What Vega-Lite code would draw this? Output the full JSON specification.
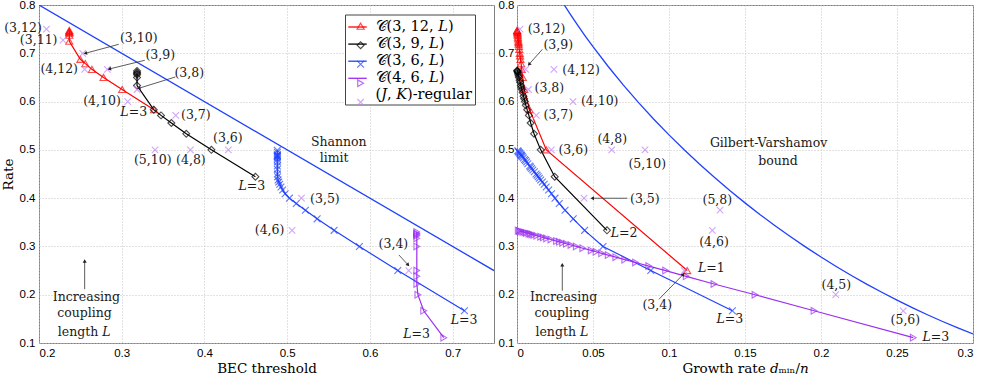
{
  "$schema": "https://vega.github.io/schema/vega-lite/v6.json",
  "background": "white",
  "padding": {"left": 0, "top": -2, "right": 0, "bottom": 0},
  "spacing": 2,
  "config": {
    "font": "DejaVu Serif",
    "view": {"stroke": "#7f7f7f", "strokeWidth": 1},
    "axis": {
      "labelFont": "Liberation Sans", "labelFontSize": 11.5, "labelColor": "#000",
      "titleFont": "DejaVu Serif", "titleFontSize": 13.5, "titleFontWeight": "normal", "titleColor": "#000",
      "grid": true, "gridColor": "#c4c4c4", "gridDash": [1, 2], "gridWidth": 1,
      "domain": false, "ticks": false, "labelPadding": 4
    }
  },
  "resolve": {
    "scale": {"color": "independent", "stroke": "independent", "shape": "independent", "size": "independent"},
    "legend": {"color": "independent", "stroke": "independent", "shape": "independent", "size": "independent"}
  },
  "datasets": {
    "shannon": [{"x": 0.2, "y": 0.8}, {"x": 0.75, "y": 0.25}],
    "gv": [
      {"x": 0.031, "y": 0.8006}, {"x": 0.035, "y": 0.7811}, {"x": 0.04, "y": 0.7577}, {"x": 0.045, "y": 0.7352},
      {"x": 0.05, "y": 0.7136}, {"x": 0.06, "y": 0.6726}, {"x": 0.07, "y": 0.6341}, {"x": 0.08, "y": 0.5978},
      {"x": 0.09, "y": 0.5635}, {"x": 0.1, "y": 0.531}, {"x": 0.11, "y": 0.5001}, {"x": 0.12, "y": 0.4706},
      {"x": 0.13, "y": 0.4426}, {"x": 0.14, "y": 0.4158}, {"x": 0.15, "y": 0.3902}, {"x": 0.16, "y": 0.3657},
      {"x": 0.17, "y": 0.3423}, {"x": 0.18, "y": 0.3199}, {"x": 0.19, "y": 0.2985}, {"x": 0.2, "y": 0.2781},
      {"x": 0.21, "y": 0.2585}, {"x": 0.22, "y": 0.2398}, {"x": 0.23, "y": 0.222}, {"x": 0.24, "y": 0.205},
      {"x": 0.25, "y": 0.1887}, {"x": 0.26, "y": 0.1732}, {"x": 0.27, "y": 0.1585}, {"x": 0.28, "y": 0.1445},
      {"x": 0.29, "y": 0.1313}, {"x": 0.3, "y": 0.1187}
    ],
    "left": [
      {"s": "𝒞(3, 12, 𝐿)", "L": 3, "x": 0.339, "y": 0.5833},
      {"s": "𝒞(3, 12, 𝐿)", "L": 4, "x": 0.3005, "y": 0.625},
      {"s": "𝒞(3, 12, 𝐿)", "L": 5, "x": 0.278, "y": 0.65},
      {"s": "𝒞(3, 12, 𝐿)", "L": 6, "x": 0.264, "y": 0.6667},
      {"s": "𝒞(3, 12, 𝐿)", "L": 7, "x": 0.256, "y": 0.6786},
      {"s": "𝒞(3, 12, 𝐿)", "L": 8, "x": 0.25, "y": 0.6875},
      {"s": "𝒞(3, 12, 𝐿)", "L": 20, "x": 0.2366, "y": 0.725},
      {"s": "𝒞(3, 12, 𝐿)", "L": 40, "x": 0.2366, "y": 0.7375},
      {"s": "𝒞(3, 12, 𝐿)", "L": 60, "x": 0.2366, "y": 0.7417},
      {"s": "𝒞(3, 12, 𝐿)", "L": 80, "x": 0.2366, "y": 0.7438},
      {"s": "𝒞(3, 12, 𝐿)", "L": 100, "x": 0.2366, "y": 0.745},
      {"s": "𝒞(3, 12, 𝐿)", "L": 200, "x": 0.2366, "y": 0.7475},
      {"s": "𝒞(3, 9, 𝐿)", "L": 3, "x": 0.4616, "y": 0.4444},
      {"s": "𝒞(3, 9, 𝐿)", "L": 4, "x": 0.4084, "y": 0.5},
      {"s": "𝒞(3, 9, 𝐿)", "L": 5, "x": 0.378, "y": 0.5333},
      {"s": "𝒞(3, 9, 𝐿)", "L": 6, "x": 0.36, "y": 0.5556},
      {"s": "𝒞(3, 9, 𝐿)", "L": 7, "x": 0.3475, "y": 0.5714},
      {"s": "𝒞(3, 9, 𝐿)", "L": 8, "x": 0.3387, "y": 0.5833},
      {"s": "𝒞(3, 9, 𝐿)", "L": 20, "x": 0.3185, "y": 0.6333},
      {"s": "𝒞(3, 9, 𝐿)", "L": 40, "x": 0.3185, "y": 0.65},
      {"s": "𝒞(3, 9, 𝐿)", "L": 60, "x": 0.3185, "y": 0.6556},
      {"s": "𝒞(3, 9, 𝐿)", "L": 80, "x": 0.3185, "y": 0.6583},
      {"s": "𝒞(3, 9, 𝐿)", "L": 100, "x": 0.3185, "y": 0.66},
      {"s": "𝒞(3, 9, 𝐿)", "L": 200, "x": 0.3185, "y": 0.6633},
      {"s": "𝒞(3, 6, 𝐿)", "L": 3, "x": 0.7143, "y": 0.1667},
      {"s": "𝒞(3, 6, 𝐿)", "L": 4, "x": 0.6337, "y": 0.25},
      {"s": "𝒞(3, 6, 𝐿)", "L": 5, "x": 0.5873, "y": 0.3},
      {"s": "𝒞(3, 6, 𝐿)", "L": 6, "x": 0.5567, "y": 0.3333},
      {"s": "𝒞(3, 6, 𝐿)", "L": 7, "x": 0.5362, "y": 0.3571},
      {"s": "𝒞(3, 6, 𝐿)", "L": 8, "x": 0.522, "y": 0.375},
      {"s": "𝒞(3, 6, 𝐿)", "L": 9, "x": 0.511, "y": 0.3889},
      {"s": "𝒞(3, 6, 𝐿)", "L": 10, "x": 0.5027, "y": 0.4},
      {"s": "𝒞(3, 6, 𝐿)", "L": 11, "x": 0.4975, "y": 0.4091},
      {"s": "𝒞(3, 6, 𝐿)", "L": 12, "x": 0.4945, "y": 0.4167},
      {"s": "𝒞(3, 6, 𝐿)", "L": 13, "x": 0.4925, "y": 0.4231},
      {"s": "𝒞(3, 6, 𝐿)", "L": 14, "x": 0.491, "y": 0.4286},
      {"s": "𝒞(3, 6, 𝐿)", "L": 15, "x": 0.4898, "y": 0.4333},
      {"s": "𝒞(3, 6, 𝐿)", "L": 16, "x": 0.489, "y": 0.4375},
      {"s": "𝒞(3, 6, 𝐿)", "L": 18, "x": 0.4884, "y": 0.4444},
      {"s": "𝒞(3, 6, 𝐿)", "L": 20, "x": 0.4882, "y": 0.45},
      {"s": "𝒞(3, 6, 𝐿)", "L": 25, "x": 0.4881, "y": 0.46},
      {"s": "𝒞(3, 6, 𝐿)", "L": 30, "x": 0.4881, "y": 0.4667},
      {"s": "𝒞(3, 6, 𝐿)", "L": 40, "x": 0.4881, "y": 0.475},
      {"s": "𝒞(3, 6, 𝐿)", "L": 50, "x": 0.4881, "y": 0.48},
      {"s": "𝒞(3, 6, 𝐿)", "L": 60, "x": 0.4881, "y": 0.4833},
      {"s": "𝒞(3, 6, 𝐿)", "L": 70, "x": 0.4881, "y": 0.4857},
      {"s": "𝒞(3, 6, 𝐿)", "L": 80, "x": 0.4881, "y": 0.4875},
      {"s": "𝒞(3, 6, 𝐿)", "L": 90, "x": 0.4881, "y": 0.4889},
      {"s": "𝒞(3, 6, 𝐿)", "L": 100, "x": 0.4881, "y": 0.49},
      {"s": "𝒞(3, 6, 𝐿)", "L": 200, "x": 0.4881, "y": 0.495},
      {"s": "𝒞(3, 6, 𝐿)", "L": 1000, "x": 0.4881, "y": 0.499},
      {"s": "𝒞(4, 6, 𝐿)", "L": 3, "x": 0.6893, "y": 0.1111},
      {"s": "𝒞(4, 6, 𝐿)", "L": 4, "x": 0.665, "y": 0.1667},
      {"s": "𝒞(4, 6, 𝐿)", "L": 5, "x": 0.658, "y": 0.2},
      {"s": "𝒞(4, 6, 𝐿)", "L": 6, "x": 0.6567, "y": 0.2222},
      {"s": "𝒞(4, 6, 𝐿)", "L": 7, "x": 0.6567, "y": 0.2381},
      {"s": "𝒞(4, 6, 𝐿)", "L": 8, "x": 0.6567, "y": 0.25},
      {"s": "𝒞(4, 6, 𝐿)", "L": 20, "x": 0.6567, "y": 0.3},
      {"s": "𝒞(4, 6, 𝐿)", "L": 40, "x": 0.6567, "y": 0.3167},
      {"s": "𝒞(4, 6, 𝐿)", "L": 60, "x": 0.6567, "y": 0.3222},
      {"s": "𝒞(4, 6, 𝐿)", "L": 80, "x": 0.6567, "y": 0.325},
      {"s": "𝒞(4, 6, 𝐿)", "L": 100, "x": 0.6567, "y": 0.3267},
      {"s": "𝒞(4, 6, 𝐿)", "L": 200, "x": 0.6567, "y": 0.33},
      {"s": "(𝐽, 𝐾)-regular", "x": 0.209, "y": 0.75},
      {"s": "(𝐽, 𝐾)-regular", "x": 0.229, "y": 0.7273},
      {"s": "(𝐽, 𝐾)-regular", "x": 0.2528, "y": 0.7},
      {"s": "(𝐽, 𝐾)-regular", "x": 0.2552, "y": 0.6667},
      {"s": "(𝐽, 𝐾)-regular", "x": 0.2826, "y": 0.6667},
      {"s": "(𝐽, 𝐾)-regular", "x": 0.3185, "y": 0.625},
      {"s": "(𝐽, 𝐾)-regular", "x": 0.3072, "y": 0.6},
      {"s": "(𝐽, 𝐾)-regular", "x": 0.3653, "y": 0.5714},
      {"s": "(𝐽, 𝐾)-regular", "x": 0.3403, "y": 0.5},
      {"s": "(𝐽, 𝐾)-regular", "x": 0.383, "y": 0.5},
      {"s": "(𝐽, 𝐾)-regular", "x": 0.4289, "y": 0.5},
      {"s": "(𝐽, 𝐾)-regular", "x": 0.5172, "y": 0.4},
      {"s": "(𝐽, 𝐾)-regular", "x": 0.5059, "y": 0.3333},
      {"s": "(𝐽, 𝐾)-regular", "x": 0.647, "y": 0.25}
    ],
    "right": [
      {"s": "𝒞(3, 12, 𝐿)", "L": 1, "x": 0.112, "y": 0.25},
      {"s": "𝒞(3, 12, 𝐿)", "L": 2, "x": 0.0193, "y": 0.5},
      {"s": "𝒞(3, 12, 𝐿)", "L": 3, "x": 0.0083, "y": 0.5833},
      {"s": "𝒞(3, 12, 𝐿)", "L": 4, "x": 0.0048, "y": 0.625},
      {"s": "𝒞(3, 12, 𝐿)", "L": 5, "x": 0.0038, "y": 0.65},
      {"s": "𝒞(3, 12, 𝐿)", "L": 6, "x": 0.0031, "y": 0.6667},
      {"s": "𝒞(3, 12, 𝐿)", "L": 7, "x": 0.0027, "y": 0.6786},
      {"s": "𝒞(3, 12, 𝐿)", "L": 8, "x": 0.0023, "y": 0.6875},
      {"s": "𝒞(3, 12, 𝐿)", "L": 9, "x": 0.002, "y": 0.6944},
      {"s": "𝒞(3, 12, 𝐿)", "L": 10, "x": 0.0018, "y": 0.7},
      {"s": "𝒞(3, 12, 𝐿)", "L": 12, "x": 0.0015, "y": 0.7083},
      {"s": "𝒞(3, 12, 𝐿)", "L": 14, "x": 0.0013, "y": 0.7143},
      {"s": "𝒞(3, 12, 𝐿)", "L": 16, "x": 0.0011, "y": 0.7188},
      {"s": "𝒞(3, 12, 𝐿)", "L": 18, "x": 0.001, "y": 0.7222},
      {"s": "𝒞(3, 12, 𝐿)", "L": 20, "x": 0.0009, "y": 0.725},
      {"s": "𝒞(3, 12, 𝐿)", "L": 25, "x": 0.0007, "y": 0.73},
      {"s": "𝒞(3, 12, 𝐿)", "L": 30, "x": 0.0006, "y": 0.7333},
      {"s": "𝒞(3, 12, 𝐿)", "L": 40, "x": 0.00045, "y": 0.7375},
      {"s": "𝒞(3, 12, 𝐿)", "L": 50, "x": 0.00036, "y": 0.74},
      {"s": "𝒞(3, 12, 𝐿)", "L": 70, "x": 0.00026, "y": 0.7429},
      {"s": "𝒞(3, 12, 𝐿)", "L": 100, "x": 0.00018, "y": 0.745},
      {"s": "𝒞(3, 12, 𝐿)", "L": 150, "x": 0.00012, "y": 0.7467},
      {"s": "𝒞(3, 12, 𝐿)", "L": 200, "x": 0.00009, "y": 0.7475},
      {"s": "𝒞(3, 9, 𝐿)", "L": 2, "x": 0.0592, "y": 0.3333},
      {"s": "𝒞(3, 9, 𝐿)", "L": 3, "x": 0.0248, "y": 0.4444},
      {"s": "𝒞(3, 9, 𝐿)", "L": 4, "x": 0.0156, "y": 0.5},
      {"s": "𝒞(3, 9, 𝐿)", "L": 5, "x": 0.0112, "y": 0.5333},
      {"s": "𝒞(3, 9, 𝐿)", "L": 6, "x": 0.009, "y": 0.5556},
      {"s": "𝒞(3, 9, 𝐿)", "L": 7, "x": 0.0078, "y": 0.5714},
      {"s": "𝒞(3, 9, 𝐿)", "L": 8, "x": 0.0067, "y": 0.5833},
      {"s": "𝒞(3, 9, 𝐿)", "L": 9, "x": 0.0058, "y": 0.5926},
      {"s": "𝒞(3, 9, 𝐿)", "L": 10, "x": 0.0052, "y": 0.6},
      {"s": "𝒞(3, 9, 𝐿)", "L": 11, "x": 0.0047, "y": 0.6061},
      {"s": "𝒞(3, 9, 𝐿)", "L": 12, "x": 0.0043, "y": 0.6111},
      {"s": "𝒞(3, 9, 𝐿)", "L": 14, "x": 0.0037, "y": 0.619},
      {"s": "𝒞(3, 9, 𝐿)", "L": 16, "x": 0.0032, "y": 0.625},
      {"s": "𝒞(3, 9, 𝐿)", "L": 18, "x": 0.0028, "y": 0.6296},
      {"s": "𝒞(3, 9, 𝐿)", "L": 20, "x": 0.0025, "y": 0.6333},
      {"s": "𝒞(3, 9, 𝐿)", "L": 25, "x": 0.002, "y": 0.64},
      {"s": "𝒞(3, 9, 𝐿)", "L": 30, "x": 0.0017, "y": 0.6444},
      {"s": "𝒞(3, 9, 𝐿)", "L": 40, "x": 0.0013, "y": 0.65},
      {"s": "𝒞(3, 9, 𝐿)", "L": 50, "x": 0.001, "y": 0.6533},
      {"s": "𝒞(3, 9, 𝐿)", "L": 70, "x": 0.0007, "y": 0.6571},
      {"s": "𝒞(3, 9, 𝐿)", "L": 100, "x": 0.0005, "y": 0.66},
      {"s": "𝒞(3, 9, 𝐿)", "L": 150, "x": 0.00034, "y": 0.6622},
      {"s": "𝒞(3, 9, 𝐿)", "L": 200, "x": 0.00025, "y": 0.6633},
      {"s": "𝒞(3, 9, 𝐿)", "L": 300, "x": 0.00017, "y": 0.6644},
      {"s": "𝒞(3, 6, 𝐿)", "L": 3, "x": 0.1417, "y": 0.1667},
      {"s": "𝒞(3, 6, 𝐿)", "L": 4, "x": 0.088, "y": 0.25},
      {"s": "𝒞(3, 6, 𝐿)", "L": 5, "x": 0.0566, "y": 0.3},
      {"s": "𝒞(3, 6, 𝐿)", "L": 6, "x": 0.0445, "y": 0.3333},
      {"s": "𝒞(3, 6, 𝐿)", "L": 7, "x": 0.037, "y": 0.3571},
      {"s": "𝒞(3, 6, 𝐿)", "L": 8, "x": 0.0316, "y": 0.375},
      {"s": "𝒞(3, 6, 𝐿)", "L": 9, "x": 0.0278, "y": 0.3889},
      {"s": "𝒞(3, 6, 𝐿)", "L": 10, "x": 0.025, "y": 0.4},
      {"s": "𝒞(3, 6, 𝐿)", "L": 11, "x": 0.0227, "y": 0.4091},
      {"s": "𝒞(3, 6, 𝐿)", "L": 12, "x": 0.0208, "y": 0.4167},
      {"s": "𝒞(3, 6, 𝐿)", "L": 13, "x": 0.0192, "y": 0.4231},
      {"s": "𝒞(3, 6, 𝐿)", "L": 14, "x": 0.0179, "y": 0.4286},
      {"s": "𝒞(3, 6, 𝐿)", "L": 15, "x": 0.0167, "y": 0.4333},
      {"s": "𝒞(3, 6, 𝐿)", "L": 16, "x": 0.0156, "y": 0.4375},
      {"s": "𝒞(3, 6, 𝐿)", "L": 17, "x": 0.0147, "y": 0.4412},
      {"s": "𝒞(3, 6, 𝐿)", "L": 18, "x": 0.0139, "y": 0.4444},
      {"s": "𝒞(3, 6, 𝐿)", "L": 19, "x": 0.0132, "y": 0.4474},
      {"s": "𝒞(3, 6, 𝐿)", "L": 20, "x": 0.0125, "y": 0.45},
      {"s": "𝒞(3, 6, 𝐿)", "L": 22, "x": 0.0114, "y": 0.4545},
      {"s": "𝒞(3, 6, 𝐿)", "L": 24, "x": 0.0104, "y": 0.4583},
      {"s": "𝒞(3, 6, 𝐿)", "L": 26, "x": 0.0096, "y": 0.4615},
      {"s": "𝒞(3, 6, 𝐿)", "L": 28, "x": 0.0089, "y": 0.4643},
      {"s": "𝒞(3, 6, 𝐿)", "L": 30, "x": 0.0083, "y": 0.4667},
      {"s": "𝒞(3, 6, 𝐿)", "L": 35, "x": 0.0071, "y": 0.4714},
      {"s": "𝒞(3, 6, 𝐿)", "L": 40, "x": 0.0063, "y": 0.475},
      {"s": "𝒞(3, 6, 𝐿)", "L": 45, "x": 0.0056, "y": 0.4778},
      {"s": "𝒞(3, 6, 𝐿)", "L": 50, "x": 0.005, "y": 0.48},
      {"s": "𝒞(3, 6, 𝐿)", "L": 60, "x": 0.0042, "y": 0.4833},
      {"s": "𝒞(3, 6, 𝐿)", "L": 70, "x": 0.0036, "y": 0.4857},
      {"s": "𝒞(3, 6, 𝐿)", "L": 80, "x": 0.0031, "y": 0.4875},
      {"s": "𝒞(3, 6, 𝐿)", "L": 90, "x": 0.0028, "y": 0.4889},
      {"s": "𝒞(3, 6, 𝐿)", "L": 100, "x": 0.0025, "y": 0.49},
      {"s": "𝒞(3, 6, 𝐿)", "L": 125, "x": 0.002, "y": 0.492},
      {"s": "𝒞(3, 6, 𝐿)", "L": 150, "x": 0.0017, "y": 0.4933},
      {"s": "𝒞(3, 6, 𝐿)", "L": 200, "x": 0.00125, "y": 0.495},
      {"s": "𝒞(3, 6, 𝐿)", "L": 300, "x": 0.00083, "y": 0.4967},
      {"s": "𝒞(3, 6, 𝐿)", "L": 500, "x": 0.0005, "y": 0.498},
      {"s": "𝒞(4, 6, 𝐿)", "L": 3, "x": 0.2607, "y": 0.1111},
      {"s": "𝒞(4, 6, 𝐿)", "L": 4, "x": 0.1954, "y": 0.1667},
      {"s": "𝒞(4, 6, 𝐿)", "L": 5, "x": 0.1566, "y": 0.2},
      {"s": "𝒞(4, 6, 𝐿)", "L": 6, "x": 0.1296, "y": 0.2222},
      {"s": "𝒞(4, 6, 𝐿)", "L": 7, "x": 0.1113, "y": 0.2381},
      {"s": "𝒞(4, 6, 𝐿)", "L": 8, "x": 0.0978, "y": 0.25},
      {"s": "𝒞(4, 6, 𝐿)", "L": 9, "x": 0.0867, "y": 0.2593},
      {"s": "𝒞(4, 6, 𝐿)", "L": 10, "x": 0.078, "y": 0.2667},
      {"s": "𝒞(4, 6, 𝐿)", "L": 11, "x": 0.0709, "y": 0.2727},
      {"s": "𝒞(4, 6, 𝐿)", "L": 12, "x": 0.065, "y": 0.2778},
      {"s": "𝒞(4, 6, 𝐿)", "L": 13, "x": 0.06, "y": 0.2821},
      {"s": "𝒞(4, 6, 𝐿)", "L": 14, "x": 0.0557, "y": 0.2857},
      {"s": "𝒞(4, 6, 𝐿)", "L": 15, "x": 0.052, "y": 0.2889},
      {"s": "𝒞(4, 6, 𝐿)", "L": 16, "x": 0.0488, "y": 0.2917},
      {"s": "𝒞(4, 6, 𝐿)", "L": 18, "x": 0.0433, "y": 0.2963},
      {"s": "𝒞(4, 6, 𝐿)", "L": 20, "x": 0.039, "y": 0.3},
      {"s": "𝒞(4, 6, 𝐿)", "L": 22, "x": 0.0355, "y": 0.303},
      {"s": "𝒞(4, 6, 𝐿)", "L": 24, "x": 0.0325, "y": 0.3056},
      {"s": "𝒞(4, 6, 𝐿)", "L": 26, "x": 0.03, "y": 0.3077},
      {"s": "𝒞(4, 6, 𝐿)", "L": 28, "x": 0.0279, "y": 0.3095},
      {"s": "𝒞(4, 6, 𝐿)", "L": 30, "x": 0.026, "y": 0.3111},
      {"s": "𝒞(4, 6, 𝐿)", "L": 35, "x": 0.0223, "y": 0.3143},
      {"s": "𝒞(4, 6, 𝐿)", "L": 40, "x": 0.0195, "y": 0.3167},
      {"s": "𝒞(4, 6, 𝐿)", "L": 45, "x": 0.0173, "y": 0.3185},
      {"s": "𝒞(4, 6, 𝐿)", "L": 50, "x": 0.0156, "y": 0.32},
      {"s": "𝒞(4, 6, 𝐿)", "L": 60, "x": 0.013, "y": 0.3222},
      {"s": "𝒞(4, 6, 𝐿)", "L": 70, "x": 0.0111, "y": 0.3238},
      {"s": "𝒞(4, 6, 𝐿)", "L": 80, "x": 0.0098, "y": 0.325},
      {"s": "𝒞(4, 6, 𝐿)", "L": 90, "x": 0.0087, "y": 0.3259},
      {"s": "𝒞(4, 6, 𝐿)", "L": 100, "x": 0.0078, "y": 0.3267},
      {"s": "𝒞(4, 6, 𝐿)", "L": 125, "x": 0.0062, "y": 0.328},
      {"s": "𝒞(4, 6, 𝐿)", "L": 150, "x": 0.0052, "y": 0.3289},
      {"s": "𝒞(4, 6, 𝐿)", "L": 200, "x": 0.0039, "y": 0.33},
      {"s": "𝒞(4, 6, 𝐿)", "L": 300, "x": 0.0026, "y": 0.3311},
      {"s": "𝒞(4, 6, 𝐿)", "L": 500, "x": 0.0016, "y": 0.332},
      {"s": "𝒞(4, 6, 𝐿)", "L": 1000, "x": 0.0008, "y": 0.3327},
      {"s": "(𝐽, 𝐾)-regular", "x": 0.002, "y": 0.75},
      {"s": "(𝐽, 𝐾)-regular", "x": 0.0057, "y": 0.6667},
      {"s": "(𝐽, 𝐾)-regular", "x": 0.0243, "y": 0.6667},
      {"s": "(𝐽, 𝐾)-regular", "x": 0.0075, "y": 0.625},
      {"s": "(𝐽, 𝐾)-regular", "x": 0.0368, "y": 0.6},
      {"s": "(𝐽, 𝐾)-regular", "x": 0.0127, "y": 0.5714},
      {"s": "(𝐽, 𝐾)-regular", "x": 0.0226, "y": 0.5},
      {"s": "(𝐽, 𝐾)-regular", "x": 0.0623, "y": 0.5},
      {"s": "(𝐽, 𝐾)-regular", "x": 0.0842, "y": 0.5},
      {"s": "(𝐽, 𝐾)-regular", "x": 0.0441, "y": 0.4},
      {"s": "(𝐽, 𝐾)-regular", "x": 0.1336, "y": 0.375},
      {"s": "(𝐽, 𝐾)-regular", "x": 0.1285, "y": 0.3333},
      {"s": "(𝐽, 𝐾)-regular", "x": 0.11, "y": 0.25},
      {"s": "(𝐽, 𝐾)-regular", "x": 0.2097, "y": 0.2},
      {"s": "(𝐽, 𝐾)-regular", "x": 0.2541, "y": 0.1667}
    ],
    "leftText": [
      {"x": 0.1807, "y": 0.753, "t": "(3,12)"},
      {"x": 0.1996, "y": 0.7275, "t": "(3,11)"},
      {"x": 0.3206, "y": 0.7323, "t": "(3,10)"},
      {"x": 0.2244, "y": 0.6669, "t": "(4,12)"},
      {"x": 0.3465, "y": 0.6969, "t": "(3,9)"},
      {"x": 0.3816, "y": 0.6598, "t": "(3,8)"},
      {"x": 0.2762, "y": 0.6002, "t": "(4,10)"},
      {"x": 0.3145, "y": 0.5785, "t": "𝐿=3"},
      {"x": 0.3896, "y": 0.5723, "t": "(3,7)"},
      {"x": 0.4283, "y": 0.5253, "t": "(3,6)"},
      {"x": 0.3375, "y": 0.478, "t": "(5,10)"},
      {"x": 0.3836, "y": 0.478, "t": "(4,8)"},
      {"x": 0.4572, "y": 0.4253, "t": "𝐿=3"},
      {"x": 0.5624, "y": 0.5167, "t": "Shannon"},
      {"x": 0.5567, "y": 0.4832, "t": "limit"},
      {"x": 0.5456, "y": 0.3977, "t": "(3,5)"},
      {"x": 0.4787, "y": 0.3338, "t": "(4,6)"},
      {"x": 0.6284, "y": 0.3058, "t": "(3,4)"},
      {"x": 0.7139, "y": 0.1472, "t": "𝐿=3"},
      {"x": 0.6565, "y": 0.1182, "t": "𝐿=3"},
      {"x": 0.2574, "y": 0.1959, "t": "Increasing"},
      {"x": 0.255, "y": 0.1623, "t": "coupling"},
      {"x": 0.2547, "y": 0.123, "t": "length 𝐿"}
    ],
    "rightText": [
      {"x": 0.0194, "y": 0.7497, "t": "(3,12)"},
      {"x": 0.0271, "y": 0.7168, "t": "(3,9)"},
      {"x": 0.0422, "y": 0.6644, "t": "(4,12)"},
      {"x": 0.0213, "y": 0.6271, "t": "(3,8)"},
      {"x": 0.0544, "y": 0.6002, "t": "(4,10)"},
      {"x": 0.0272, "y": 0.5723, "t": "(3,7)"},
      {"x": 0.037, "y": 0.4998, "t": "(3,6)"},
      {"x": 0.0627, "y": 0.5226, "t": "(4,8)"},
      {"x": 0.0857, "y": 0.4702, "t": "(5,10)"},
      {"x": 0.1655, "y": 0.5132, "t": "Gilbert-Varshamov"},
      {"x": 0.1717, "y": 0.477, "t": "bound"},
      {"x": 0.0841, "y": 0.399, "t": "(3,5)"},
      {"x": 0.0704, "y": 0.3286, "t": "𝐿=2"},
      {"x": 0.1318, "y": 0.3969, "t": "(5,8)"},
      {"x": 0.1296, "y": 0.3097, "t": "(4,6)"},
      {"x": 0.1278, "y": 0.2562, "t": "𝐿=1"},
      {"x": 0.0923, "y": 0.1789, "t": "(3,4)"},
      {"x": 0.0307, "y": 0.1959, "t": "Increasing"},
      {"x": 0.0295, "y": 0.1623, "t": "coupling"},
      {"x": 0.0295, "y": 0.123, "t": "length 𝐿"},
      {"x": 0.14, "y": 0.1493, "t": "𝐿=3"},
      {"x": 0.2101, "y": 0.2203, "t": "(4,5)"},
      {"x": 0.2555, "y": 0.1474, "t": "(5,6)"},
      {"x": 0.2755, "y": 0.1131, "t": "𝐿=3"}
    ],
    "leftArrows": [
      {"x": 0.2964, "y": 0.7186, "x2": 0.256, "y2": 0.7, "a": -105},
      {"x": 0.3278, "y": 0.6855, "x2": 0.285, "y2": 0.6675, "a": -104},
      {"x": 0.3648, "y": 0.6509, "x2": 0.3206, "y2": 0.6275, "a": -107},
      {"x": 0.635, "y": 0.2824, "x2": 0.6462, "y2": 0.2617, "a": 137},
      {"x": 0.2552, "y": 0.2114, "x2": 0.2552, "y2": 0.27, "a": 0}
    ],
    "rightArrows": [
      {"x": 0.0167, "y": 0.7082, "x2": 0.0079, "y2": 0.6771, "a": -138},
      {"x": 0.0726, "y": 0.3998, "x2": 0.0495, "y2": 0.3998, "a": -90},
      {"x": 0.0934, "y": 0.1905, "x2": 0.1094, "y2": 0.2422, "a": 44},
      {"x": 0.0298, "y": 0.2083, "x2": 0.0298, "y2": 0.2621, "a": 0}
    ]
  },
  "hconcat": [
    {
      "width": 455,
      "height": 338,
      "layer": [
        {
          "data": {"name": "shannon"},
          "mark": {"type": "line", "color": "#1f40ff", "strokeWidth": 1.3, "clip": true},
          "encoding": {
            "x": {"field": "x", "type": "quantitative", "scale": {"domain": [0.2, 0.75], "nice": false, "zero": false},
                  "axis": {"values": [0.2, 0.3, 0.4, 0.5, 0.6, 0.7], "format": ".1f", "labelFlush": true, "title": "BEC threshold", "titlePadding": 3}},
            "y": {"field": "y", "type": "quantitative", "scale": {"domain": [0.1, 0.8], "nice": false, "zero": false},
                  "axis": {"values": [0.1, 0.2, 0.3, 0.4, 0.5, 0.6, 0.7, 0.8], "format": ".1f", "title": "Rate", "titlePadding": 4}}
          }
        },
        {
          "data": {"name": "left"},
          "transform": [{"filter": "datum.s !== '(𝐽, 𝐾)-regular'"}],
          "mark": {"type": "line", "strokeWidth": 1.2},
          "encoding": {
            "x": {"field": "x", "type": "quantitative"},
            "y": {"field": "y", "type": "quantitative"},
            "order": {"field": "L", "type": "quantitative"},
            "stroke": {"field": "s", "type": "nominal",
              "scale": {"domain": ["𝒞(3, 12, 𝐿)", "𝒞(3, 9, 𝐿)", "𝒞(3, 6, 𝐿)", "𝒞(4, 6, 𝐿)", "(𝐽, 𝐾)-regular"],
                        "range": ["#ff0000", "#000000", "#1f40ff", "#9a30f0", "rgba(0,0,0,0)"]},
              "legend": {"title": null, "orient": "none", "legendX": 306, "legendY": 9.5, "padding": 2.5, "rowPadding": 0.1,
                         "labelFont": "DejaVu Serif", "labelFontSize": 14.5, "labelColor": "#000", "labelOffset": 8,
                         "symbolType": "stroke", "symbolSize": 340, "symbolStrokeWidth": 1.3,
                         "fillColor": "white", "strokeColor": "#444", "zindex": 1}}
          }
        },
        {
          "data": {"name": "left"},
          "mark": {"type": "point", "filled": false, "strokeWidth": 1.1},
          "encoding": {
            "x": {"field": "x", "type": "quantitative"},
            "y": {"field": "y", "type": "quantitative"},
            "color": {"field": "s", "type": "nominal",
              "scale": {"domain": ["𝒞(3, 12, 𝐿)", "𝒞(3, 9, 𝐿)", "𝒞(3, 6, 𝐿)", "𝒞(4, 6, 𝐿)", "(𝐽, 𝐾)-regular", "none"],
                        "range": ["#ff0000", "#000000", "#1f40ff", "#9a30f0", "#c080f8", "#000000"]},
              "legend": {"title": null, "orient": "none", "legendX": 306, "legendY": 9.5, "padding": 4.45, "rowPadding": 4,
                         "values": ["𝒞(3, 12, 𝐿)", "𝒞(3, 9, 𝐿)", "𝒞(3, 6, 𝐿)", "𝒞(4, 6, 𝐿)", "(𝐽, 𝐾)-regular"],
                         "labelFont": "DejaVu Serif", "labelFontSize": 14.5, "labelOpacity": 0, "labelOffset": 6,
                         "symbolSize": 45, "symbolStrokeWidth": 1.2, "symbolOffset": 3.9, "zindex": 2}},
            "shape": {"field": "s", "type": "nominal",
              "scale": {"domain": ["𝒞(3, 12, 𝐿)", "𝒞(3, 9, 𝐿)", "𝒞(3, 6, 𝐿)", "𝒞(4, 6, 𝐿)", "(𝐽, 𝐾)-regular", "none"],
                        "range": ["triangle-up", "diamond", "M-1,-1L1,1M-1,1L1,-1", "triangle-right", "M-1,-1L1,1M-1,1L1,-1", "circle"]}},
            "size": {"field": "s", "type": "nominal", "legend": null,
              "scale": {"domain": ["𝒞(3, 12, 𝐿)", "𝒞(3, 9, 𝐿)", "𝒞(3, 6, 𝐿)", "𝒞(4, 6, 𝐿)", "(𝐽, 𝐾)-regular", "none"],
                        "range": [50, 40, 22, 55, 45, 10]}}
          }
        },
        {
          "data": {"name": "leftArrows"},
          "mark": {"type": "rule", "color": "#333", "strokeWidth": 0.8},
          "encoding": {
            "x": {"field": "x", "type": "quantitative"}, "y": {"field": "y", "type": "quantitative"},
            "x2": {"field": "x2"}, "y2": {"field": "y2"}
          }
        },
        {
          "data": {"name": "leftArrows"},
          "mark": {"type": "point", "shape": "triangle-up", "filled": true, "color": "#222", "size": 16, "opacity": 1},
          "encoding": {
            "x": {"field": "x2", "type": "quantitative"}, "y": {"field": "y2", "type": "quantitative"},
            "angle": {"field": "a", "type": "quantitative", "scale": null}
          }
        },
        {
          "data": {"name": "leftText"},
          "mark": {"type": "text", "font": "DejaVu Serif", "fontSize": 12.5, "color": "#1a1a1a", "align": "center", "baseline": "middle"},
          "encoding": {
            "x": {"field": "x", "type": "quantitative"}, "y": {"field": "y", "type": "quantitative"},
            "text": {"field": "t"}
          }
        }
      ]
    },
    {
      "width": 456,
      "height": 338,
      "layer": [
        {
          "data": {"name": "gv"},
          "mark": {"type": "line", "color": "#1f40ff", "strokeWidth": 1.3, "clip": true},
          "encoding": {
            "x": {"field": "x", "type": "quantitative", "scale": {"domain": [0, 0.3], "nice": false, "zero": false},
                  "axis": {"values": [0, 0.05, 0.1, 0.15, 0.2, 0.25, 0.3], "format": "~g", "title": "Growth rate 𝑑ₘᵢₙ/𝑛", "titlePadding": 3}},
            "y": {"field": "y", "type": "quantitative", "scale": {"domain": [0.1, 0.8], "nice": false, "zero": false},
                  "axis": {"values": [0.1, 0.2, 0.3, 0.4, 0.5, 0.6, 0.7, 0.8], "format": ".1f", "title": null, "labelPadding": 3}}
          }
        },
        {
          "data": {"name": "right"},
          "transform": [{"filter": "datum.s !== '(𝐽, 𝐾)-regular'"}],
          "mark": {"type": "line", "strokeWidth": 1.2},
          "encoding": {
            "x": {"field": "x", "type": "quantitative"},
            "y": {"field": "y", "type": "quantitative"},
            "order": {"field": "L", "type": "quantitative"},
            "stroke": {"field": "s", "type": "nominal", "legend": null,
              "scale": {"domain": ["𝒞(3, 12, 𝐿)", "𝒞(3, 9, 𝐿)", "𝒞(3, 6, 𝐿)", "𝒞(4, 6, 𝐿)", "(𝐽, 𝐾)-regular"],
                        "range": ["#ff0000", "#000000", "#1f40ff", "#9a30f0", "rgba(0,0,0,0)"]}}
          }
        },
        {
          "data": {"name": "right"},
          "mark": {"type": "point", "filled": false, "strokeWidth": 1.1},
          "encoding": {
            "x": {"field": "x", "type": "quantitative"},
            "y": {"field": "y", "type": "quantitative"},
            "color": {"field": "s", "type": "nominal", "legend": null,
              "scale": {"domain": ["𝒞(3, 12, 𝐿)", "𝒞(3, 9, 𝐿)", "𝒞(3, 6, 𝐿)", "𝒞(4, 6, 𝐿)", "(𝐽, 𝐾)-regular", "none"],
                        "range": ["#ff0000", "#000000", "#1f40ff", "#9a30f0", "#c080f8", "#000000"]}},
            "shape": {"field": "s", "type": "nominal", "legend": null,
              "scale": {"domain": ["𝒞(3, 12, 𝐿)", "𝒞(3, 9, 𝐿)", "𝒞(3, 6, 𝐿)", "𝒞(4, 6, 𝐿)", "(𝐽, 𝐾)-regular", "none"],
                        "range": ["triangle-up", "diamond", "M-1,-1L1,1M-1,1L1,-1", "triangle-right", "M-1,-1L1,1M-1,1L1,-1", "circle"]}},
            "size": {"field": "s", "type": "nominal", "legend": null,
              "scale": {"domain": ["𝒞(3, 12, 𝐿)", "𝒞(3, 9, 𝐿)", "𝒞(3, 6, 𝐿)", "𝒞(4, 6, 𝐿)", "(𝐽, 𝐾)-regular", "none"],
                        "range": [50, 40, 22, 55, 45, 10]}}
          }
        },
        {
          "data": {"name": "rightArrows"},
          "mark": {"type": "rule", "color": "#333", "strokeWidth": 0.8},
          "encoding": {
            "x": {"field": "x", "type": "quantitative"}, "y": {"field": "y", "type": "quantitative"},
            "x2": {"field": "x2"}, "y2": {"field": "y2"}
          }
        },
        {
          "data": {"name": "rightArrows"},
          "mark": {"type": "point", "shape": "triangle-up", "filled": true, "color": "#222", "size": 16, "opacity": 1},
          "encoding": {
            "x": {"field": "x2", "type": "quantitative"}, "y": {"field": "y2", "type": "quantitative"},
            "angle": {"field": "a", "type": "quantitative", "scale": null}
          }
        },
        {
          "data": {"name": "rightText"},
          "mark": {"type": "text", "font": "DejaVu Serif", "fontSize": 12.5, "color": "#1a1a1a", "align": "center", "baseline": "middle"},
          "encoding": {
            "x": {"field": "x", "type": "quantitative"}, "y": {"field": "y", "type": "quantitative"},
            "text": {"field": "t"}
          }
        }
      ]
    }
  ]
}
